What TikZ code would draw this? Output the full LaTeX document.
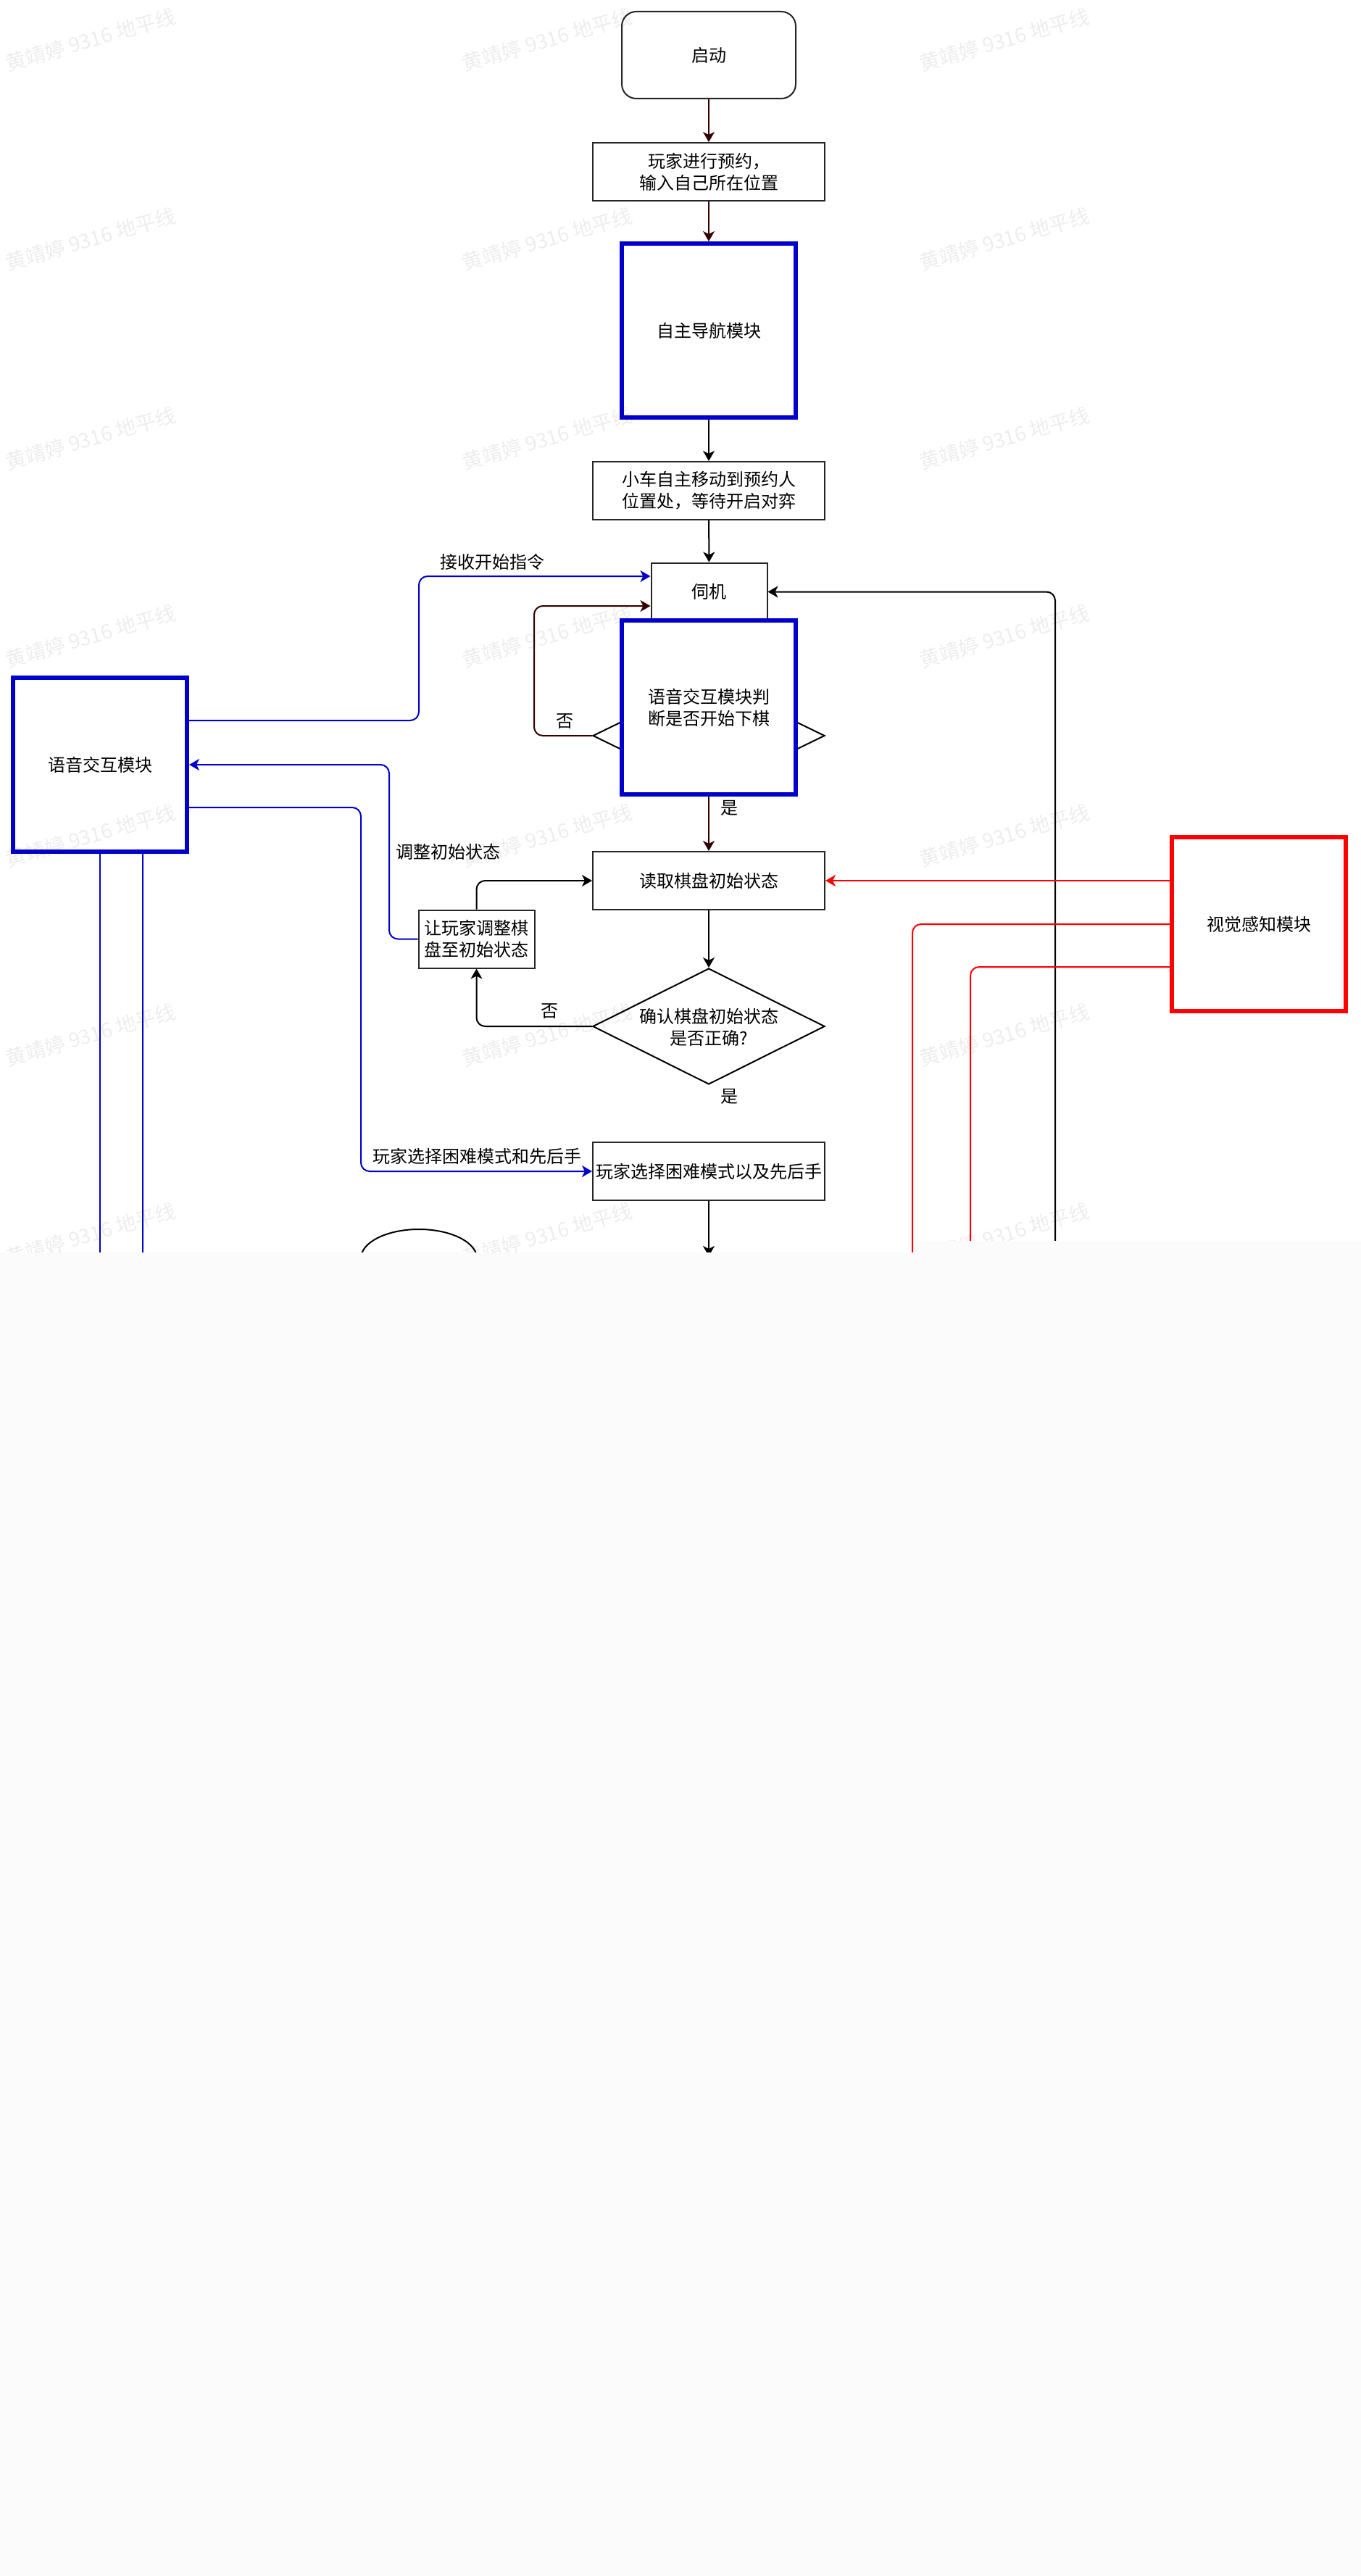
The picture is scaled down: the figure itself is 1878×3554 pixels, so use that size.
\documentclass[tikz,border=0pt]{standalone}
\usepackage{fontspec}
\setmainfont{Noto Sans CJK SC}
\usetikzlibrary{arrows.meta,shapes.geometric,calc}
\definecolor{mblue}{RGB}{0,0,204}
\definecolor{mred}{RGB}{255,0,0}
\definecolor{dbrown}{RGB}{51,0,0}
\definecolor{cutgray}{RGB}{251,251,251}
\tikzset{
  txt/.style={font=\fontsize{12pt}{15pt}\selectfont, align=center, inner sep=0pt},
  box/.style={txt, draw=black!85, line width=1pt, fill=white, minimum width=160pt, minimum height=40pt},
  startbox/.style={box, rounded corners=10pt, minimum width=120pt, minimum height=60pt},
  module/.style={txt, draw=mblue, line width=3pt, fill=white, minimum width=120pt, minimum height=120pt},
  redmodule/.style={module, draw=mred},
  dia/.style={draw=black, line width=1pt, fill=white, diamond, inner sep=0pt},
  tip/.style={-{Stealth[length=7pt,width=8pt,inset=2pt]}},
  arr/.style={tip, draw=black, line width=1pt, rounded corners=6pt},
  brownarr/.style={arr, draw=dbrown, color=dbrown},
  bluearr/.style={arr, draw=mblue, color=mblue},
  redarr/.style={arr, draw=mred, color=mred},
  bline/.style={draw=mblue, line width=1pt, rounded corners=6pt},
  rline/.style={draw=mred, line width=1pt, rounded corners=6pt},
  lbl/.style={txt},
  wm/.style={font=\fontsize{14pt}{14pt}\selectfont, text=black, text opacity=0.07, rotate=16, inner sep=0pt}
}
\begin{document}
\begin{tikzpicture}[x=0.5pt,y=-0.5pt]
\path[use as bounding box] (0,0) rectangle (1878,3554);
\fill[white] (0,0) rectangle (1878,3554);

% nodes
\node[startbox] (start) at (978,76) {启动};
\node[box] (reserve) at (978,237) {玩家进行预约，\\输入自己所在位置};
\node[module] (nav) at (978,456) {自主导航模块};
\node[box] (move) at (978,677) {小车自主移动到预约人\\位置处，等待开启对弈};
\node[box, minimum width=80pt] (wait) at (978.5,816.5) {伺机};
\node[dia, minimum width=160pt, minimum height=78pt] (d1) at (978,1015) {};
\node[module] (judge) at (978,976) {语音交互模块判\\断是否开始下棋};
\node[module] (voice) at (138,1055) {语音交互模块};
\node[box] (read) at (978,1215) {读取棋盘初始状态};
\node[box, minimum width=80pt] (adjust) at (657.5,1295.5) {让玩家调整棋\\盘至初始状态};
\node[dia, minimum width=160pt, minimum height=80pt] (confirm) at (978,1416) {};
\node[txt] (confirmtxt) at (978,1417) {确认棋盘初始状态\\是否正确?};
\node[box] (choose) at (978,1616) {玩家选择困难模式以及先后手};
\node[redmodule] (vision) at (1737,1275) {视觉感知模块};
\node[draw=black, line width=1pt, ellipse, minimum width=80pt, minimum height=40pt, inner sep=0pt] (ell) at (578,1736) {};

% free ends below the cut
\coordinate (e1) at (978,1733);
\coordinate (e2) at (1456,1760);
\coordinate (e3) at (1259,1760);
\coordinate (e4) at (1339,1760);
\coordinate (e5) at (138,1760);
\coordinate (e6) at (197,1760);

% connectors
\draw[brownarr] (start) -- (reserve);
\draw[brownarr] (reserve) -- (nav);
\draw[arr] (nav) -- (move);
\draw[arr] (move) -- (wait);
\draw[brownarr] (d1.west) -- (737,1015) -- (737,836) -- (wait.west |- 0,836);
\draw[bluearr] (voice.east |- 0,994) -- (578,994) -- (578,795) -- (wait.west |- 0,795);
\draw[arr] (e2) -- (1456,816.5) -- (wait.east);
\draw[brownarr] (judge) -- (read);
\draw[arr] (read) -- (confirm);
\draw[arr] (confirm.west) -| (adjust.south);
\draw[arr] (adjust.north) |- (read.west);
\draw[bluearr] (adjust.west) -- (537,1295.5) |- (voice.east);
\draw[bluearr] (voice.east |- 0,1114) -- (498,1114) |- (choose.west);
\draw[redarr] (vision.west |- read.east) -- (read.east);
\draw[rline] (vision.west) -- (1259,1275) -- (e3);
\draw[rline] (vision.west |- 0,1334) -- (1339,1334) -- (e4);
\draw[bline] (voice.south) -- (e5);
\draw[bline] (voice.south -| 197,0) -- (e6);
\draw[arr] (choose) -- (e1);

% labels
\node[lbl] (l1) at (679,775) {接收开始指令};
\node[lbl] (l2) at (779,995) {否};
\node[lbl] (l3) at (1006,1115) {是};
\node[lbl] (l4) at (618,1175) {调整初始状态};
\node[lbl] (l5) at (758,1395) {否};
\node[lbl] (l6) at (1006,1513) {是};
\node[lbl] (l7) at (658,1595) {玩家选择困难模式和先后手};

% watermarks
\foreach \yy in {55,330,605,878,1153,1428,1703} {
  \foreach \xx in {125,755,1386} {
    \node[wm] at (\xx,\yy) {黄靖婷 9316 地平线};
  }
}

% cut-off area
\fill[cutgray] (0,1728) -- (1263,1728) -- (1263,1712) -- (1878,1712) -- (1878,3554) -- (0,3554) -- cycle;
\end{tikzpicture}
\end{document}
